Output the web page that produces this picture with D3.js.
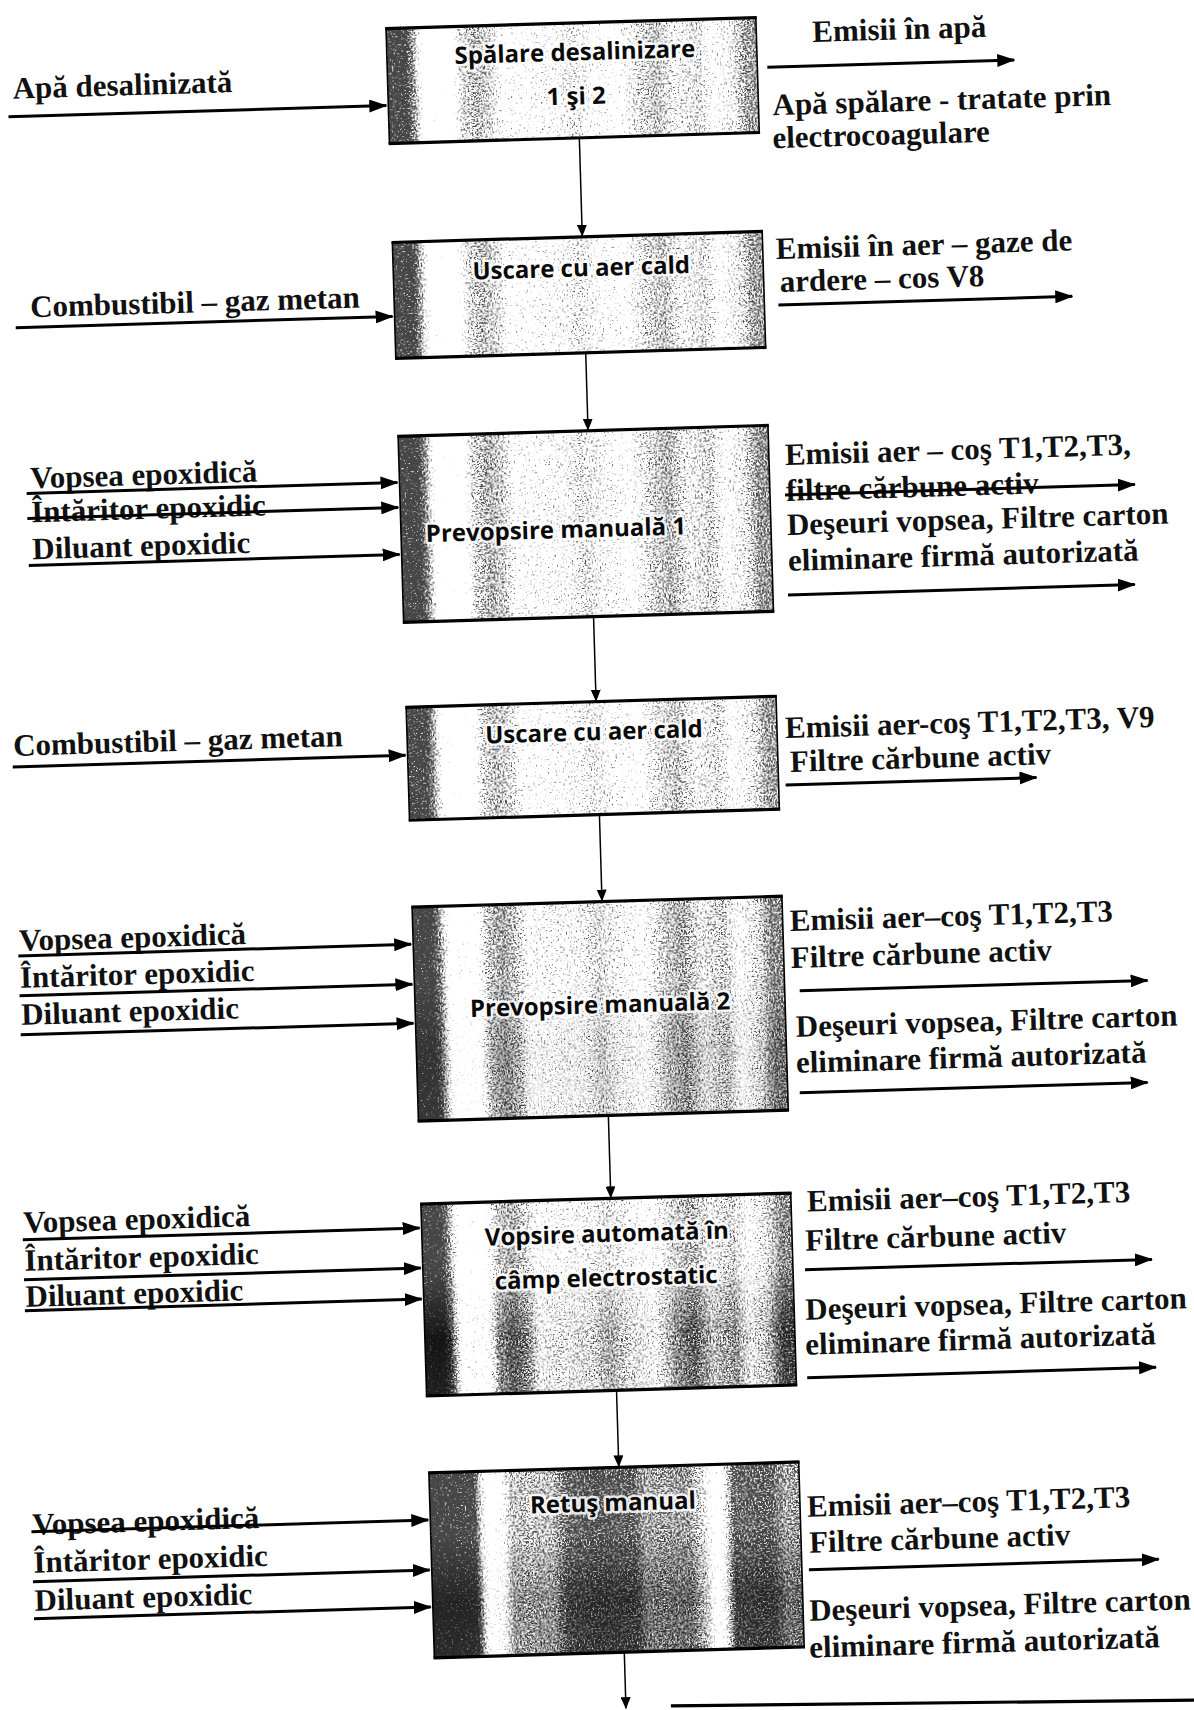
<!DOCTYPE html>
<html>
<head>
<meta charset="utf-8">
<script src="https://cdn.jsdelivr.net/npm/d3@7"></script>
<style>
  body { margin: 0; background: #fff; }
  .lbl { font-family: "Liberation Serif", "Times New Roman", serif; font-weight: bold; font-size: 31px; fill: #111; }
  .box-lbl { font-family: "Open Sans", "Noto Sans", sans-serif; font-weight: 700; font-size: 24px; }
  .box-lbl.halo { fill: #fff; stroke: #fff; stroke-width: 5px; stroke-linejoin: round; opacity: 0.85; }
  .box-lbl.ink { fill: #0a0a0a; }
</style>
</head>
<body>
<svg id="flow"></svg>
<script>
var width = 1194;
var height = 1710;

// process steps (text inside the boxes)
var stageLabels = [
  ["Spălare desalinizare", "1 şi 2"],
  ["Uscare cu aer cald"],
  ["Prevopsire manuală 1"],
  ["Uscare cu aer cald"],
  ["Prevopsire manuală 2"],
  ["Vopsire automată în", "câmp electrostatic"],
  ["Retuş manual"]
];

// materials going in (left side)
var inputLabels = [
  ["Apă desalinizată"],
  ["Combustibil – gaz metan"],
  ["Vopsea epoxidică", "Întăritor epoxidic", "Diluant epoxidic"],
  ["Combustibil – gaz metan"],
  ["Vopsea epoxidică", "Întăritor epoxidic", "Diluant epoxidic"],
  ["Vopsea epoxidică", "Întăritor epoxidic", "Diluant epoxidic"],
  ["Vopsea epoxidică", "Întăritor epoxidic", "Diluant epoxidic"]
];

// emissions / waste going out (right side)
var outputLabels = [
  ["Emisii în apă", "Apă spălare - tratate prin", "electrocoagulare"],
  ["Emisii în aer – gaze de", "ardere – cos V8"],
  ["Emisii aer – coş T1,T2,T3,", "filtre cărbune activ", "Deşeuri vopsea, Filtre carton", "eliminare firmă autorizată"],
  ["Emisii  aer-coş T1,T2,T3, V9", "Filtre cărbune activ"],
  ["Emisii  aer–coş T1,T2,T3", "Filtre cărbune activ", "Deşeuri vopsea, Filtre carton", "eliminare firmă autorizată"],
  ["Emisii  aer–coş T1,T2,T3", "Filtre cărbune activ", "Deşeuri vopsea, Filtre carton", "eliminare firmă autorizată"],
  ["Emisii  aer–coş T1,T2,T3", "Filtre cărbune activ", "Deşeuri vopsea, Filtre carton", "eliminare firmă autorizată"]
];

// ---- layout (page is a slightly tilted scan, drawn straight then rotated) ----
var tilt = -1.7;
var boxX = 385, boxW = 370, linkX = 575;
var textShift = 6;
var boxTop = [40, 254, 448, 719, 919, 1216, 1485];
var boxH   = [115, 116, 186, 113, 214, 192, 185];
var boxShade = [0, 0, 0.02, 0, 0.04, 0.03, 0.05];
var lowerDark = [0, 0, 0, 0, 0.4, 1, 0.7];
var labelPos = [
  [[573, 68], [573, 112]],
  [[573, 284]],
  [[540, 545]],
  [[572, 748]],
  [[570, 1021]],
  [[570, 1250], [568, 1294]],
  [[568, 1519]]
];
var inPos = [
  {x: 10,  ys: [93],               ay: [117],              ax: 5},
  {x: 21,  ys: [312],              ay: [328],              ax: 6},
  {x: 16,  ys: [483, 517, 554],    ay: [494, 519, 566],    ax: 12},
  {x: -9,  ys: [750],              ay: [767],              ax: -10},
  {x: -9,  ys: [945, 982, 1019],   ay: [956, 996, 1035],   ax: -10},
  {x: -13, ys: [1227, 1265, 1301], ay: [1240, 1280, 1311], ax: -14},
  {x: -13, ys: [1529, 1567, 1605], ay: [1532, 1582, 1619], ax: -14}
];
var outPos = [
  {lines: [[811, 60], [769, 132], [768, 165]], arrows: [[765, 1012, 90]]},
  {lines: [[768, 276], [771, 309]], arrows: [[769, 1063, 328]]},
  {lines: [[771, 482], [771, 518], [771, 552], [771, 588]], arrows: [[770, 1120, 518], [770, 1117, 618]]},
  {lines: [[763, 755], [767, 789]], arrows: [[762, 1013, 808]]},
  {lines: [[762, 948], [762, 985], [765, 1054], [764, 1090]], arrows: [[770, 1118, 1014], [767, 1115, 1116]]},
  {lines: [[771, 1229], [768, 1268], [766, 1337], [765, 1372]], arrows: [[767, 1114, 1293], [766, 1115, 1401]]},
  {lines: [[762, 1534], [763, 1570], [761, 1638], [760, 1675]], arrows: [[762, 1112, 1593]]}
];

// density of the halftone dots across a box (0 = white, 1 = black)
var bandsCommon = [
  [0.00, 0.86], [0.05, 0.86], [0.075, 0.62], [0.10, 0.28], [0.17, 0.28],
  [0.20, 0.55], [0.24, 0.62], [0.28, 0.55], [0.31, 0.40], [0.45, 0.44],
  [0.50, 0.52], [0.55, 0.44], [0.62, 0.38], [0.68, 0.55], [0.73, 0.61],
  [0.78, 0.48], [0.84, 0.55], [0.88, 0.40], [0.93, 0.50], [0.97, 0.66],
  [1.00, 0.66]
];
var bandsRetus = [
  [0.00, 0.86], [0.12, 0.80], [0.14, 0.45], [0.16, 0.26], [0.19, 0.33],
  [0.22, 0.55], [0.33, 0.56], [0.37, 0.70], [0.45, 0.74], [0.55, 0.72],
  [0.58, 0.60], [0.70, 0.62], [0.74, 0.48], [0.77, 0.26], [0.79, 0.33],
  [0.82, 0.70], [0.92, 0.72], [0.96, 0.60], [1.00, 0.62]
];
var boxBands = [bandsCommon, bandsCommon, bandsCommon, bandsCommon, bandsCommon, bandsCommon, bandsRetus];

var svg = d3.select("#flow")
  .attr("width", width)
  .attr("height", height)
  .style("display", "block");

svg.append("rect").attr("width", width).attr("height", height).attr("fill", "#fff");

var defs = svg.append("defs");

stageLabels.forEach(function(d, i) {
  var g = defs.append("linearGradient").attr("id", "bands" + i)
    .attr("x1", 0).attr("x2", 1).attr("y1", 0).attr("y2", 0);
  g.selectAll("stop").data(boxBands[i]).enter().append("stop")
    .attr("offset", function(b) { return b[0]; })
    .attr("stop-color", "#000")
    .attr("stop-opacity", function(b) { return Math.min(1, b[1] + boxShade[i]); });
});

// vertical mask: darker lower part of some boxes
var vg = defs.append("linearGradient").attr("id", "lowerGrad")
  .attr("x1", 0).attr("x2", 0).attr("y1", 0).attr("y2", 1);
vg.append("stop").attr("offset", 0.35).attr("stop-color", "#000");
vg.append("stop").attr("offset", 0.7).attr("stop-color", "#fff");
vg.append("stop").attr("offset", 1).attr("stop-color", "#ccc");
var lowerMask = defs.append("mask").attr("id", "lowerMask")
  .attr("maskContentUnits", "objectBoundingBox");
lowerMask.append("rect").attr("width", 1).attr("height", 1).attr("fill", "url(#lowerGrad)");

// turn the band density into speckles
function halftone(id, seed, c) {
  var s = 6;
  var f = defs.append("filter").attr("id", id)
    .attr("x", 0).attr("y", 0).attr("width", 1).attr("height", 1)
    .attr("color-interpolation-filters", "sRGB");
  f.append("feTurbulence").attr("type", "fractalNoise")
    .attr("baseFrequency", 0.6).attr("numOctaves", 2).attr("seed", seed).attr("result", "n");
  f.append("feColorMatrix").attr("in", "n").attr("type", "matrix")
    .attr("values", "0 0 0 0 0  0 0 0 0 0  0 0 0 0 0  1 0 0 0 0").attr("result", "na");
  f.append("feComposite").attr("in", "SourceGraphic").attr("in2", "na")
    .attr("operator", "arithmetic")
    .attr("k1", 0).attr("k2", s).attr("k3", s).attr("k4", -s * c);
}
halftone("halftone", 4, 1.08);
halftone("halftone2", 19, 1.0);

function marker(id, w, h) {
  defs.append("marker").attr("id", id)
    .attr("markerUnits", "userSpaceOnUse")
    .attr("markerWidth", w).attr("markerHeight", h)
    .attr("refX", w - 1).attr("refY", h / 2)
    .attr("orient", "auto")
    .append("path")
    .attr("d", "M0,0L" + w + "," + (h / 2) + "L0," + h + "Z")
    .attr("fill", "#000");
}
marker("headBig", 18, 13);
marker("headSmall", 12, 10);

var page = svg.append("g").attr("transform", "rotate(" + tilt + ")");

// ---- boxes ----
var boxes = page.selectAll("g.box")
  .data(stageLabels)
  .enter().append("g").attr("class", "box");

function boxRect(sel) {
  return sel.append("rect")
    .attr("x", boxX).attr("y", function(d, i) { return boxTop[i]; })
    .attr("width", boxW).attr("height", function(d, i) { return boxH[i]; });
}

boxRect(boxes).attr("fill", "#fff");

boxRect(boxes)
  .attr("fill", function(d, i) { return "url(#bands" + i + ")"; })
  .attr("filter", "url(#halftone)")
  .attr("opacity", 0.72);

boxRect(boxes)
  .attr("fill", function(d, i) { return "url(#bands" + i + ")"; })
  .attr("filter", "url(#halftone2)")
  .attr("mask", "url(#lowerMask)")
  .attr("opacity", function(d, i) { return 0.7 * lowerDark[i]; });

boxRect(boxes).attr("fill", "none").attr("stroke", "#000").attr("stroke-width", 1.6);

// heavier top and bottom edges
boxes.each(function(d, i) {
  var g = d3.select(this);
  [boxTop[i], boxTop[i] + boxH[i]].forEach(function(y) {
    g.append("line")
      .attr("x1", boxX - 0.8).attr("x2", boxX + boxW + 0.8)
      .attr("y1", y).attr("y2", y)
      .attr("stroke", "#000").attr("stroke-width", 3.2);
  });
});

["halo", "ink"].forEach(function(kind) {
  boxes.selectAll("text." + kind)
    .data(function(d, i) { return d.map(function(t, j) { return {t: t, p: labelPos[i][j]}; }); })
    .enter().append("text")
    .attr("class", "box-lbl " + kind)
    .attr("x", function(d) { return d.p[0]; })
    .attr("y", function(d) { return d.p[1]; })
    .attr("text-anchor", "middle")
    .attr("dominant-baseline", "central")
    .text(function(d) { return d.t; });
});

// ---- links between steps ----
for (var i = 0; i < stageLabels.length - 1; i++) {
  page.append("line")
    .attr("x1", linkX).attr("x2", linkX)
    .attr("y1", boxTop[i] + boxH[i] + 1).attr("y2", boxTop[i + 1] - 1)
    .attr("stroke", "#000").attr("stroke-width", 1.5)
    .attr("marker-end", "url(#headSmall)");
}
var last = stageLabels.length - 1;
page.append("line")
  .attr("x1", linkX).attr("x2", linkX)
  .attr("y1", boxTop[last] + boxH[last] + 1).attr("y2", 1726)
  .attr("stroke", "#000").attr("stroke-width", 1.5)
  .attr("marker-end", "url(#headSmall)");
page.append("line")
  .attr("x1", 620).attr("x2", 1210)
  .attr("y1", 1725).attr("y2", 1736)
  .attr("stroke", "#000").attr("stroke-width", 3.2);

// ---- inputs ----
inputLabels.forEach(function(list, i) {
  var p = inPos[i];
  var g = page.append("g");
  g.selectAll("text").data(list).enter().append("text")
    .attr("class", "lbl")
    .attr("x", p.x)
    .attr("y", function(d, j) { return p.ys[j] + textShift; })
    .text(function(d) { return d; });
  g.selectAll("line").data(p.ay).enter().append("line")
    .attr("x1", p.ax).attr("x2", boxX - 2)
    .attr("y1", function(d) { return d; }).attr("y2", function(d) { return d; })
    .attr("stroke", "#000").attr("stroke-width", 3)
    .attr("marker-end", "url(#headBig)");
});

// ---- outputs ----
outputLabels.forEach(function(list, i) {
  var p = outPos[i];
  var g = page.append("g");
  g.selectAll("text").data(list).enter().append("text")
    .attr("class", "lbl")
    .attr("x", function(d, j) { return p.lines[j][0]; })
    .attr("y", function(d, j) { return p.lines[j][1] + textShift; })
    .text(function(d) { return d; });
  g.selectAll("line").data(p.arrows).enter().append("line")
    .attr("x1", function(d) { return d[0]; }).attr("x2", function(d) { return d[1]; })
    .attr("y1", function(d) { return d[2]; }).attr("y2", function(d) { return d[2]; })
    .attr("stroke", "#000").attr("stroke-width", 3)
    .attr("marker-end", "url(#headBig)");
});
</script>
</body>
</html>
